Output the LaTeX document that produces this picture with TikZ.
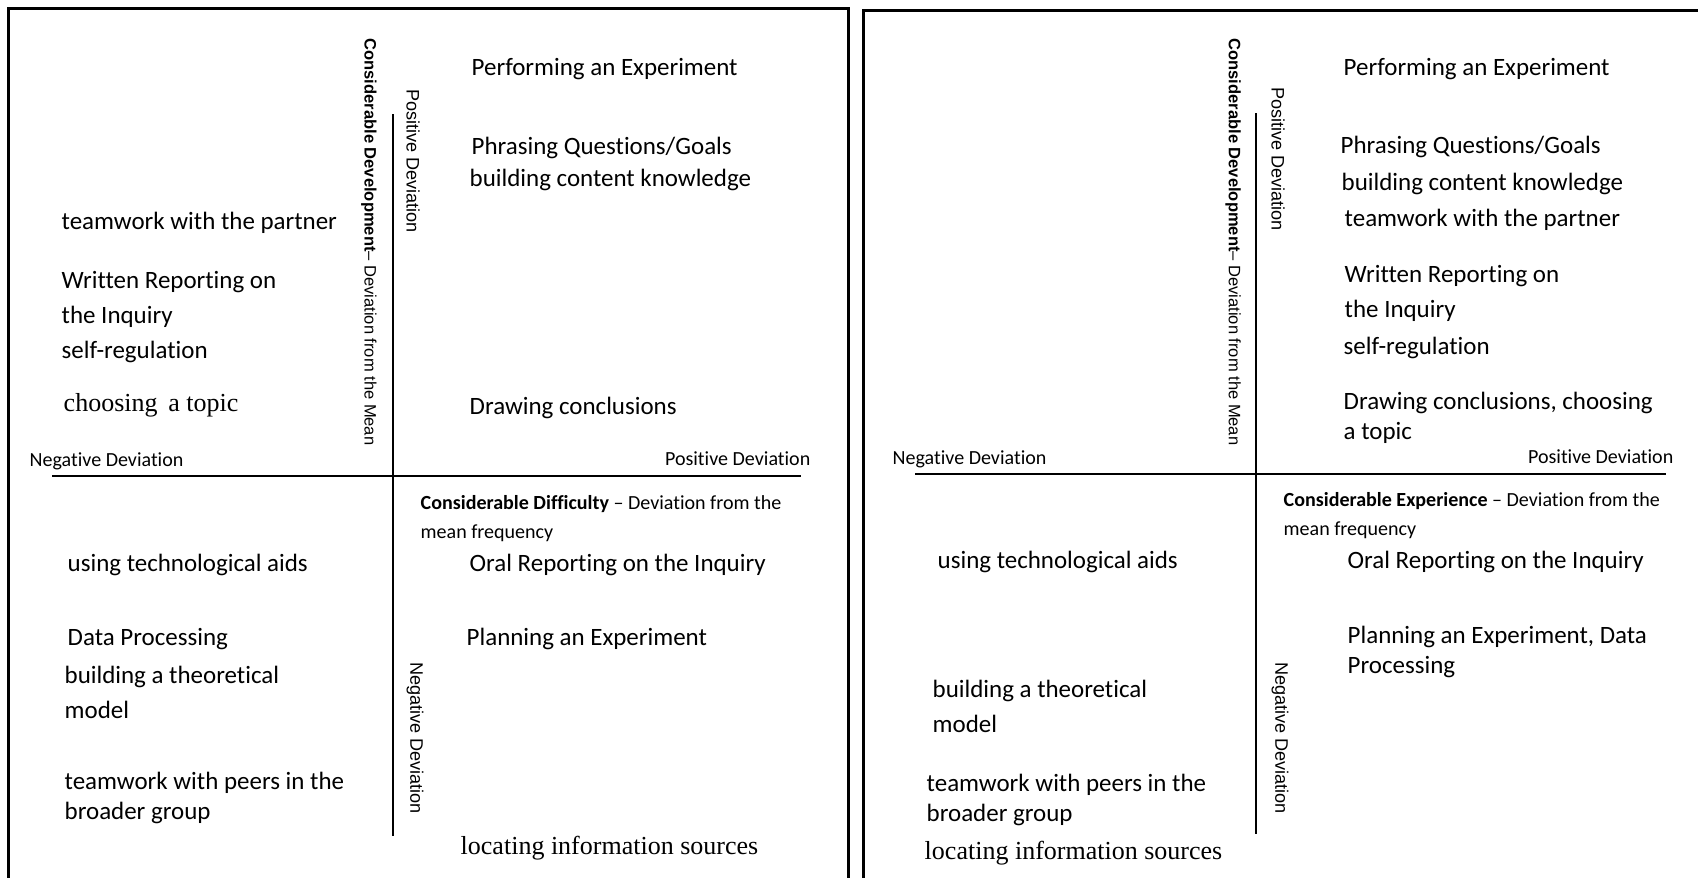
\documentclass[tikz,border=0pt]{standalone}
\usepackage{fontspec}
\setmainfont{Carlito}[Ligatures=CommonOff]
\newfontfamily\arialfont{Liberation Sans}[Ligatures=CommonOff]
\newfontfamily\timesfont{Liberation Serif}
\usetikzlibrary{positioning}

\tikzset{
  frameline/.style={line width=0.85pt},
  axisline/.style={line width=0.5pt},
  item/.style={font=\fontsize{7.1}{8.5}\selectfont,anchor=west,inner sep=0pt,align=left,yshift=-0.75pt},
  itemtnr/.style={font=\timesfont\fontsize{7.4}{8.5}\selectfont,anchor=west,inner sep=0pt,yshift=-0.75pt},
  dirlbl/.style={font=\fontsize{5.7}{7}\selectfont,inner sep=0pt,yshift=-0.75pt},
  vertlbl/.style={font=\arialfont\fontsize{5.15}{6}\selectfont,rotate=-90,inner sep=0pt},
  titlelbl/.style={font=\arialfont\fontsize{4.7}{6}\selectfont,rotate=-90,inner sep=0pt},
  quadlbl/.style={font=\fontsize{5.7}{8.25}\selectfont,anchor=west,inner sep=0pt,align=left,yshift=-0.75pt}
}

\begin{document}
\begin{tikzpicture}
  \useasboundingbox (0,0) rectangle (16.98,-8.77);

  % frames, open at the bottom
  \draw[frameline] (0.085,-8.9) |- (8.48,-0.085) -- (8.48,-8.9);
  \draw[frameline] (8.635,-8.9) |- (17.2,-0.105);

  % left panel: difficulty
  \coordinate (dVtop) at (3.93,-1.14);
  \coordinate (dVbot) at (3.93,-8.36);
  \coordinate (dHl) at (0.52,-4.76);
  \coordinate (dHr) at (8.01,-4.76);
  \draw[axisline] (dVtop) -- (dVbot);
  \draw[axisline] (dHl) -- (dHr);

  \node[titlelbl] (dTitle) at (3.69,-2.42)
    {\textbf{Considerable Development}– Deviation from the Mean};
  \node[vertlbl] (dUp) at (4.13,-1.61) {Positive Deviation};
  \node[vertlbl] (dDown) at (4.15,-7.38) {Negative Deviation};
  \node[dirlbl,anchor=west] (dNeg) at (0.29,-4.59) {Negative Deviation};
  \node[dirlbl,anchor=east] (dPos) at (8.11,-4.56) {Positive Deviation};
  \node[quadlbl] (dQuad) at (4.20,-5.155)
    {\textbf{Considerable Difficulty} – Deviation from the\\mean frequency};

  \node[item] (dPerf) at (4.71,-0.66) {Performing an Experiment};
  \node[item] (dPhrase) at (4.71,-1.45) {Phrasing Questions/Goals};
  \node[item] (dContent) at (4.69,-1.77) {building content knowledge};
  \node[item] (dPartner) at (0.61,-2.20) {teamwork with the partner};
  \node[item] (dWritten) at (0.61,-2.965) {Written Reporting on\\[1.45pt]the Inquiry};
  \node[item] (dSelf) at (0.61,-3.49) {self-regulation};
  \node[itemtnr] (dTopic) at (0.63,-4.03) {choosing\, a topic};
  \node[item] (dConcl) at (4.69,-4.05) {Drawing conclusions};
  \node[item] (dTech) at (0.67,-5.62) {using technological aids};
  \node[item] (dOral) at (4.69,-5.62) {Oral Reporting on the Inquiry};
  \node[item] (dData) at (0.67,-6.36) {Data Processing};
  \node[item] (dPlan) at (4.66,-6.36) {Planning an Experiment};
  \node[item] (dTheory) at (0.64,-6.90) {building a theoretical\\[1.45pt]model};
  \node[item] (dPeers) at (0.64,-7.95) {teamwork with peers in the\\broader group};
  \node[itemtnr] (dSources) at (4.60,-8.45) {locating information sources};

  % right panel: experience
  \coordinate (eVtop) at (12.56,-1.13);
  \coordinate (eVbot) at (12.56,-8.34);
  \coordinate (eHl) at (9.15,-4.74);
  \coordinate (eHr) at (16.66,-4.74);
  \draw[axisline] (eVtop) -- (eVbot);
  \draw[axisline] (eHl) -- (eHr);

  \node[titlelbl] (eTitle) at (12.33,-2.42)
    {\textbf{Considerable Development}– Deviation from the Mean};
  \node[vertlbl] (eUp) at (12.78,-1.59) {Positive Deviation};
  \node[vertlbl] (eDown) at (12.80,-7.38) {Negative Deviation};
  \node[dirlbl,anchor=west] (eNeg) at (8.92,-4.57) {Negative Deviation};
  \node[dirlbl,anchor=east] (ePos) at (16.74,-4.54) {Positive Deviation};
  \node[quadlbl] (eQuad) at (12.83,-5.13)
    {\textbf{Considerable Experience} – Deviation from the\\mean frequency};

  \node[item] (ePerf) at (13.43,-0.66) {Performing an Experiment};
  \node[item] (ePhrase) at (13.40,-1.44) {Phrasing Questions/Goals};
  \node[item] (eContent) at (13.41,-1.81) {building content knowledge};
  \node[item] (ePartner) at (13.44,-2.17) {teamwork with the partner};
  \node[item] (eWritten) at (13.44,-2.905) {Written Reporting on\\[1.45pt]the Inquiry};
  \node[item] (eSelf) at (13.43,-3.45) {self-regulation};
  \node[item] (eConcl) at (13.43,-4.15) {Drawing conclusions, choosing\\a topic};
  \node[item] (eTech) at (9.37,-5.59) {using technological aids};
  \node[item] (eOral) at (13.47,-5.59) {Oral Reporting on the Inquiry};
  \node[item] (ePlan) at (13.47,-6.495) {Planning an Experiment, Data\\Processing};
  \node[item] (eTheory) at (9.32,-7.035) {building a theoretical\\[1.45pt]model};
  \node[item] (ePeers) at (9.26,-7.975) {teamwork with peers in the\\broader group};
  \node[itemtnr] (eSources) at (9.24,-8.50) {locating information sources};
\end{tikzpicture}
\end{document}
